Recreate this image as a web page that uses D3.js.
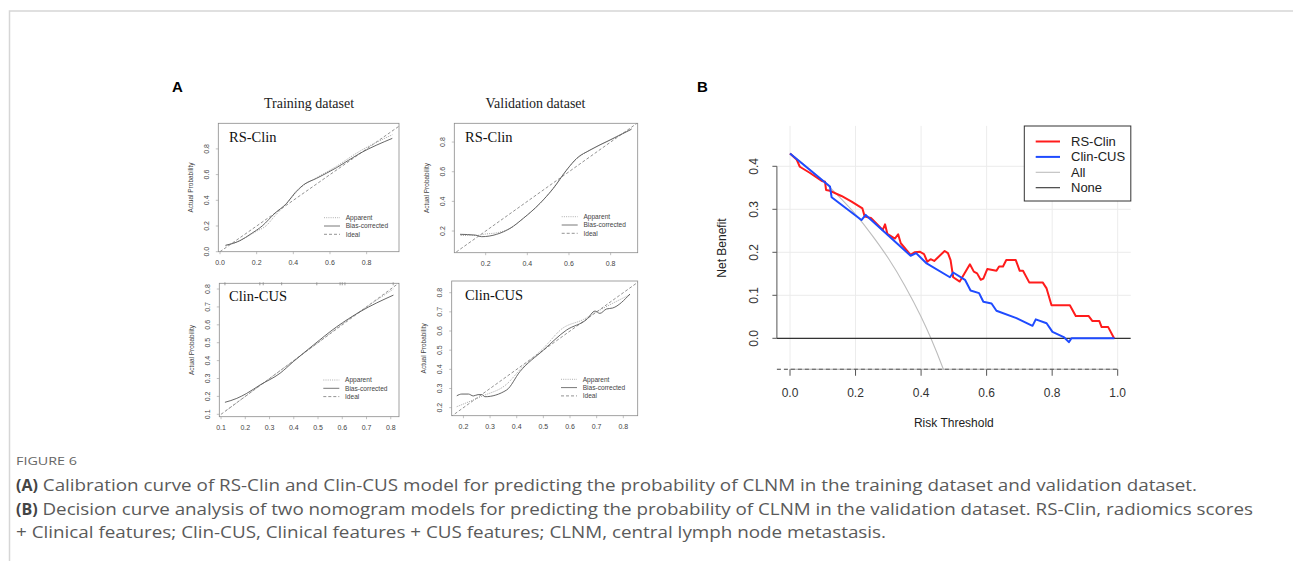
<!DOCTYPE html>
<html>
<head>
<meta charset="utf-8">
<title>Figure 6</title>
<script src="https://cdn.jsdelivr.net/npm/d3@7"></script>
<style>
  body { margin: 0; background: #fff; }
  svg { display: block; }
</style>
</head>
<body>
<svg id="fig"></svg>
<script>
// ---- values ----

// panel A, calibration curves: [predicted, actual]
var trainRsApparent = [[0.03,0.045],[0.1,0.08],[0.2,0.16],[0.25,0.2],[0.3,0.28],[0.36,0.37],[0.45,0.51],[0.52,0.57],[0.63,0.66],[0.76,0.78],[0.94,0.91]];
var trainRsBias = [[0.03,0.05],[0.109,0.086],[0.17,0.14],[0.23,0.2],[0.3,0.3],[0.364,0.377],[0.41,0.46],[0.455,0.52],[0.527,0.571],[0.636,0.654],[0.764,0.766],[0.94,0.882]];
var validRsApparent = [[0.08,0.17],[0.15,0.17],[0.2,0.18],[0.26,0.19],[0.32,0.22],[0.38,0.285],[0.46,0.385],[0.53,0.5],[0.59,0.615],[0.64,0.69],[0.7,0.745],[0.8,0.815],[0.9,0.89]];
var validRsBias = [[0.077,0.178],[0.149,0.173],[0.181,0.162],[0.253,0.178],[0.317,0.218],[0.381,0.286],[0.461,0.387],[0.525,0.488],[0.589,0.612],[0.637,0.69],[0.701,0.746],[0.797,0.814],[0.9,0.886]];
var trainCusApparent = [[0.12,0.12],[0.2,0.2],[0.3,0.3],[0.4,0.4],[0.5,0.5],[0.6,0.605],[0.7,0.7],[0.811,0.8]];
var trainCusBias = [[0.116,0.167],[0.165,0.189],[0.206,0.217],[0.261,0.264],[0.343,0.329],[0.398,0.394],[0.481,0.487],[0.577,0.589],[0.673,0.673],[0.811,0.766]];
var validCusApparent = [[0.175,0.205],[0.27,0.26],[0.36,0.32],[0.42,0.41],[0.5,0.51],[0.57,0.612],[0.65,0.66],[0.7,0.7],[0.825,0.79]];
var validCusBias = [[0.175,0.262],[0.194,0.271],[0.219,0.271],[0.237,0.261],[0.255,0.268],[0.269,0.268],[0.281,0.257],[0.362,0.292],[0.412,0.388],[0.5,0.5],[0.587,0.605],[0.663,0.661],[0.694,0.704],[0.712,0.692],[0.737,0.715],[0.76,0.72],[0.825,0.793]];
var idealLine = [[0,0],[1,1]];
var trainCusRug = [0.116,0.26,0.274,0.35,0.495,0.591,0.6,0.611,0.81];

var ticksTrainRs = [0, 0.2, 0.4, 0.6, 0.8];
var ticksValidRs = [0.2, 0.4, 0.6, 0.8];
var ticksTrainCus = [0.1, 0.2, 0.3, 0.4, 0.5, 0.6, 0.7, 0.8];
var ticksValidCus = [0.2, 0.3, 0.4, 0.5, 0.6, 0.7, 0.8];
var calLegend = ["Apparent", "Bias-corrected", "Ideal"];

// panel B, decision curves: [threshold, net benefit]
var rsClin = [[0,0.43],[0.02,0.416],[0.03,0.399],[0.06,0.385],[0.097,0.366],[0.107,0.364],[0.11,0.345],[0.122,0.343],[0.157,0.331],[0.188,0.318],[0.221,0.302],[0.228,0.283],[0.247,0.28],[0.283,0.252],[0.29,0.265],[0.297,0.243],[0.32,0.232],[0.33,0.242],[0.338,0.221],[0.368,0.194],[0.38,0.2],[0.397,0.201],[0.409,0.196],[0.419,0.178],[0.429,0.184],[0.44,0.18],[0.472,0.203],[0.482,0.198],[0.49,0.182],[0.498,0.142],[0.518,0.132],[0.549,0.172],[0.561,0.155],[0.571,0.151],[0.582,0.136],[0.59,0.139],[0.602,0.161],[0.63,0.157],[0.638,0.167],[0.65,0.167],[0.66,0.182],[0.689,0.182],[0.701,0.157],[0.711,0.157],[0.73,0.13],[0.771,0.13],[0.783,0.116],[0.798,0.077],[0.854,0.077],[0.872,0.052],[0.911,0.052],[0.923,0.04],[0.944,0.04],[0.951,0.026],[0.971,0.026],[0.989,0]];
var clinCus = [[0,0.43],[0.122,0.353],[0.127,0.328],[0.218,0.275],[0.231,0.287],[0.368,0.192],[0.385,0.198],[0.417,0.174],[0.488,0.142],[0.498,0.153],[0.534,0.136],[0.551,0.111],[0.577,0.105],[0.59,0.085],[0.615,0.081],[0.63,0.064],[0.691,0.047],[0.74,0.029],[0.75,0.044],[0.783,0.035],[0.801,0.015],[0.837,0.002],[0.851,-0.009],[0.859,0],[0.99,0]];
var treatAll = [[0,0.43],[0.05,0.4],[0.1,0.367],[0.15,0.329],[0.2,0.288],[0.25,0.24],[0.3,0.186],[0.35,0.123],[0.4,0.05],[0.43,0],[0.468,-0.072],[0.5,-0.14]];
var treatNone = [[-0.04,0],[1.04,0]];
var dcaXTicks = [0, 0.2, 0.4, 0.6, 0.8, 1.0];
var dcaYTicks = [0, 0.1, 0.2, 0.3, 0.4];
var dcaLegend = ["RS-Clin", "Clin-CUS", "All", "None"];
var dcaColors = ["#ff1c1c", "#1f4bff", "#bdbdbd", "#333333"];

var captionLines = [
  ["(A)", " Calibration curve of RS-Clin and Clin-CUS model for predicting the probability of CLNM in the training dataset and validation dataset."],
  ["(B)", " Decision curve analysis of two nomogram models for predicting the probability of CLNM in the validation dataset. RS-Clin, radiomics scores"],
  ["", "+ Clinical features; Clin-CUS, Clinical features + CUS features; CLNM, central lymph node metastasis."]
];

// ---- drawing ----
var W = 1293, H = 567;
var sans = "'Liberation Sans', Arial, sans-serif";
var serif = "'Liberation Serif', 'Times New Roman', serif";

var svg = d3.select("#fig").attr("width", W).attr("height", H);
var defs = svg.append("defs");

// page frame
svg.append("path")
  .attr("d", "M9.5,561 V11 H1293")
  .attr("fill", "none")
  .attr("stroke", "#d6d6d6")
  .attr("stroke-width", 1.5);

svg.append("text").attr("x", 172).attr("y", 92).text("A")
  .attr("font-family", sans).attr("font-weight", "bold").attr("font-size", 15);
svg.append("text").attr("x", 697).attr("y", 92).text("B")
  .attr("font-family", sans).attr("font-weight", "bold").attr("font-size", 15);

svg.append("text").attr("x", 309).attr("y", 108).attr("text-anchor", "middle")
  .attr("font-family", serif).attr("font-size", 14).attr("fill", "#222").text("Training dataset");
svg.append("text").attr("x", 535.5).attr("y", 108).attr("text-anchor", "middle")
  .attr("font-family", serif).attr("font-size", 14).attr("fill", "#222").text("Validation dataset");

var panels = [
  {id: "trs", name: "RS-Clin", box: [218.3, 123.3, 399, 251.7], xlim: [-0.0093, 0.9765], ylim: [0, 0.9992],
   ticks: ticksTrainRs, app: trainRsApparent, bias: trainRsBias, leg: [324, 217.7], lab: [10.7, 13.4], rug: []},
  {id: "vrs", name: "RS-Clin", box: [454.3, 123.3, 637.7, 252.7], xlim: [0.0494, 0.93], ylim: [0.054, 0.9265],
   ticks: ticksValidRs, app: validRsApparent, bias: validRsBias, leg: [561.7, 216.7], lab: [10.7, 13.4], rug: []},
  {id: "tcu", name: "Clin-CUS", box: [219.3, 283.3, 399, 416.7], xlim: [0.0928, 0.834], ylim: [0.0866, 0.832],
   ticks: ticksTrainCus, app: trainCusApparent, bias: trainCusBias, leg: [323.3, 380], lab: [9.7, 12.4], rug: trainCusRug},
  {id: "vcu", name: "Clin-CUS", box: [451.7, 281, 637.7, 415.7], xlim: [0.156, 0.854], ylim: [0.158, 0.861],
   ticks: ticksValidCus, app: validCusApparent, bias: validCusBias, leg: [561, 379.3], lab: [13.3, 14], rug: []}
];

panels.forEach(drawCalibration);

function fmt(v) { return d3.format(".1f")(v); }

function drawCalibration(p) {
  var b = p.box;
  var x = d3.scaleLinear().domain(p.xlim).range([b[0], b[2]]);
  var y = d3.scaleLinear().domain(p.ylim).range([b[3], b[1]]);
  var g = svg.append("g");

  defs.append("clipPath").attr("id", "clip-" + p.id)
    .append("rect").attr("x", b[0]).attr("y", b[1]).attr("width", b[2] - b[0]).attr("height", b[3] - b[1]);

  var line = d3.line().x(function(d) { return x(d[0]); }).y(function(d) { return y(d[1]); })
    .curve(d3.curveMonotoneX);

  var inner = g.append("g").attr("clip-path", "url(#clip-" + p.id + ")");
  inner.append("path").datum(idealLine).attr("d", d3.line().x(function(d) { return x(d[0]); }).y(function(d) { return y(d[1]); }))
    .attr("fill", "none").attr("stroke", "#777").attr("stroke-width", 0.8).attr("stroke-dasharray", "3,2");
  inner.append("path").datum(p.app).attr("d", line)
    .attr("fill", "none").attr("stroke", "#9a9a9a").attr("stroke-width", 0.9).attr("stroke-dasharray", "1,1.2");
  inner.append("path").datum(p.bias).attr("d", line)
    .attr("fill", "none").attr("stroke", "#555").attr("stroke-width", 0.9);

  // box
  g.append("rect").attr("x", b[0]).attr("y", b[1]).attr("width", b[2] - b[0]).attr("height", b[3] - b[1])
    .attr("fill", "none").attr("stroke", "#8a8a8a").attr("stroke-width", 0.8);

  // rug of predictions along the top
  g.selectAll(".rug").data(p.rug).enter().append("line")
    .attr("x1", function(d) { return x(d); }).attr("x2", function(d) { return x(d); })
    .attr("y1", b[1] - 1).attr("y2", b[1] + 2)
    .attr("stroke", "#888").attr("stroke-width", 0.8);

  // ticks and tick labels
  g.selectAll(".xt").data(p.ticks).enter().append("line")
    .attr("x1", function(d) { return x(d); }).attr("x2", function(d) { return x(d); })
    .attr("y1", b[3]).attr("y2", b[3] + 2.5).attr("stroke", "#999").attr("stroke-width", 0.6);
  g.selectAll(".xl").data(p.ticks).enter().append("text")
    .attr("x", function(d) { return x(d); }).attr("y", b[3] + 13.5)
    .attr("text-anchor", "middle").attr("font-family", sans).attr("font-size", 7).attr("fill", "#444")
    .text(fmt);
  g.selectAll(".yt").data(p.ticks).enter().append("line")
    .attr("y1", function(d) { return y(d); }).attr("y2", function(d) { return y(d); })
    .attr("x1", b[0]).attr("x2", b[0] - 2.5).attr("stroke", "#999").attr("stroke-width", 0.6);
  g.selectAll(".yl").data(p.ticks).enter().append("text")
    .attr("transform", function(d) { return "translate(" + (b[0] - 9.5) + "," + y(d) + ") rotate(-90)"; })
    .attr("text-anchor", "middle").attr("font-family", sans).attr("font-size", 7).attr("fill", "#444")
    .text(fmt);

  g.append("text")
    .attr("transform", "translate(" + (b[0] - 25.5) + "," + ((b[1] + b[3]) / 2) + ") rotate(-90)")
    .attr("text-anchor", "middle").attr("font-family", sans).attr("font-size", 6.5).attr("fill", "#444")
    .text("Actual Probability");

  g.append("text").attr("x", b[0] + p.lab[0]).attr("y", b[1] + p.lab[1] + 5)
    .attr("font-family", serif).attr("font-size", 14.5).attr("fill", "#111").text(p.name);

  // legend
  var dashes = ["1,1.2", null, "3,2"];
  var strokes = ["#9a9a9a", "#555", "#777"];
  calLegend.forEach(function(name, i) {
    var ly = p.leg[1] + i * 8.3;
    g.append("line").attr("x1", p.leg[0]).attr("x2", p.leg[0] + 16).attr("y1", ly).attr("y2", ly)
      .attr("stroke", strokes[i]).attr("stroke-width", 0.8).attr("stroke-dasharray", dashes[i]);
    g.append("text").attr("x", p.leg[0] + 21.7).attr("y", ly + 2.3)
      .attr("font-family", sans).attr("font-size", 6.6).attr("fill", "#444").text(name);
  });
}

// ---- panel B: decision curves ----
var region = {xlim: [-0.04, 1.04], ylim: [-0.072, 0.494]};
var bx = d3.scaleLinear().domain([0, 1]).range([790, 1117.7]);
var by = d3.scaleLinear().domain([0, 0.4]).range([338.3, 166.3]);
var rx0 = bx(region.xlim[0]), rx1 = bx(region.xlim[1]);
var ry0 = by(region.ylim[0]), ry1 = by(region.ylim[1]);

var gb = svg.append("g");
defs.append("clipPath").attr("id", "clip-dca")
  .append("rect").attr("x", rx0).attr("y", ry1).attr("width", rx1 - rx0).attr("height", ry0 - ry1);

gb.selectAll(".vg").data(dcaXTicks).enter().append("line")
  .attr("x1", function(d) { return bx(d); }).attr("x2", function(d) { return bx(d); })
  .attr("y1", ry1).attr("y2", ry0).attr("stroke", "#ececec").attr("stroke-width", 1);
gb.selectAll(".hg").data(dcaYTicks).enter().append("line")
  .attr("y1", function(d) { return by(d); }).attr("y2", function(d) { return by(d); })
  .attr("x1", rx0).attr("x2", rx1).attr("stroke", "#ececec").attr("stroke-width", 1);

var dline = d3.line().x(function(d) { return bx(d[0]); }).y(function(d) { return by(d[1]); });
var curves = gb.append("g").attr("clip-path", "url(#clip-dca)");
curves.append("path").datum(treatAll).attr("d", dline.curve(d3.curveMonotoneX))
  .attr("fill", "none").attr("stroke", dcaColors[2]).attr("stroke-width", 1.1);
dline.curve(d3.curveLinear);
curves.append("path").datum(treatNone).attr("d", dline)
  .attr("fill", "none").attr("stroke", dcaColors[3]).attr("stroke-width", 1.2);
curves.append("path").datum(rsClin).attr("d", dline)
  .attr("fill", "none").attr("stroke", dcaColors[0]).attr("stroke-width", 2).attr("stroke-linejoin", "round");
curves.append("path").datum(clinCus).attr("d", dline)
  .attr("fill", "none").attr("stroke", dcaColors[1]).attr("stroke-width", 2).attr("stroke-linejoin", "round");

// axes
gb.append("line").attr("x1", rx0).attr("x2", rx0).attr("y1", by(0)).attr("y2", by(0.4))
  .attr("stroke", "#555").attr("stroke-width", 1);
gb.selectAll(".ytk").data(dcaYTicks).enter().append("line")
  .attr("y1", function(d) { return by(d); }).attr("y2", function(d) { return by(d); })
  .attr("x1", rx0).attr("x2", rx0 - 4.5).attr("stroke", "#555").attr("stroke-width", 1);
gb.selectAll(".ylb").data(dcaYTicks).enter().append("text")
  .attr("transform", function(d) { return "translate(" + (rx0 - 19) + "," + by(d) + ") rotate(-90)"; })
  .attr("text-anchor", "middle").attr("font-family", sans).attr("font-size", 12).attr("fill", "#333")
  .text(fmt);

gb.append("line").attr("x1", rx0).attr("x2", bx(1)).attr("y1", ry0).attr("y2", ry0)
  .attr("stroke", "#444").attr("stroke-width", 1).attr("stroke-dasharray", "4,3");
gb.append("line").attr("x1", bx(0)).attr("x2", bx(1)).attr("y1", ry0).attr("y2", ry0)
  .attr("stroke", "#777").attr("stroke-width", 0.6);
gb.selectAll(".xtk").data(dcaXTicks).enter().append("line")
  .attr("x1", function(d) { return bx(d); }).attr("x2", function(d) { return bx(d); })
  .attr("y1", ry0).attr("y2", ry0 + 6.5).attr("stroke", "#555").attr("stroke-width", 1);
gb.selectAll(".xlb").data(dcaXTicks).enter().append("text")
  .attr("x", function(d) { return bx(d); }).attr("y", ry0 + 28)
  .attr("text-anchor", "middle").attr("font-family", sans).attr("font-size", 12).attr("fill", "#333")
  .text(fmt);

gb.append("text").attr("x", (bx(0) + bx(1)) / 2).attr("y", 427)
  .attr("text-anchor", "middle").attr("font-family", sans).attr("font-size", 12).attr("fill", "#222")
  .text("Risk Threshold");
gb.append("text").attr("transform", "translate(" + 726 + "," + 248 + ") rotate(-90)")
  .attr("text-anchor", "middle").attr("font-family", sans).attr("font-size", 12).attr("fill", "#222")
  .text("Net Benefit");

// legend
gb.append("rect").attr("x", 1024.3).attr("y", 126).attr("width", rx1 - 1024.3).attr("height", 75)
  .attr("fill", "#fff").attr("stroke", "#333").attr("stroke-width", 1);
dcaLegend.forEach(function(name, i) {
  var ly = 141.5 + i * 15.4;
  gb.append("line").attr("x1", 1035.7).attr("x2", 1060).attr("y1", ly).attr("y2", ly)
    .attr("stroke", dcaColors[i]).attr("stroke-width", i < 2 ? 2 : 1.1);
  gb.append("text").attr("x", 1071).attr("y", ly + 4.5)
    .attr("font-family", sans).attr("font-size", 13).attr("fill", "#222").text(name);
});

// ---- caption ----
var capFont = "'Open Sans', 'Noto Sans', sans-serif";
svg.append("text").attr("x", 16).attr("y", 464.5)
  .attr("font-family", capFont).attr("font-size", 10.5).attr("fill", "#666")
  .attr("textLength", 61).attr("lengthAdjust", "spacingAndGlyphs")
  .text("FIGURE 6");

var lineEnds = [1197, 1253, 886];
var lineBase = [491, 514.5, 538];
captionLines.forEach(function(parts, i) {
  var cx = 16;
  if (parts[0]) {
    var bold = svg.append("text").attr("x", cx).attr("y", lineBase[i])
      .attr("font-family", capFont).attr("font-size", 16).attr("font-weight", "bold").attr("fill", "#444")
      .text(parts[0]);
    cx += bold.node().getComputedTextLength();
  }
  svg.append("text").attr("x", cx).attr("y", lineBase[i])
    .attr("font-family", capFont).attr("font-size", 16).attr("fill", "#5a5a5a")
    .attr("xml:space", "preserve").style("white-space", "pre")
    .attr("textLength", lineEnds[i] - cx).attr("lengthAdjust", "spacingAndGlyphs")
    .text(parts[1]);
});
</script>
</body>
</html>
